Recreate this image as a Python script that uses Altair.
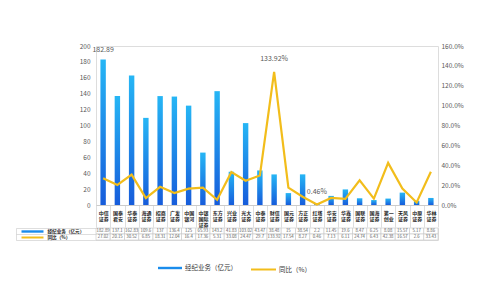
import altair as alt
import pandas as pd

categories = ["中信证券", "国泰君安", "华泰证券", "海通证券", "招商证券", "广发证券",
              "中国银河", "中银国际证券", "东方证券", "兴业证券", "光大证券", "中泰证券",
              "财信证券", "国元证券", "方正证券", "红塔证券", "华安证券", "华鑫证券",
              "国联证券", "国海证券", "第一创业", "天风证券", "中原证券", "华林证券"]
brokerage = [182.89, 137.1, 162.83, 109.6, 137.0, 136.4, 125.0, 65.93, 143.2, 41.83,
             103.02, 43.47, 38.48, 15.00, 38.54, 2.20, 11.45, 19.60, 8.47, 6.25, 8.08,
             15.57, 5.17, 8.86]
yoy = [27.02, 20.15, 30.52, 6.85, 18.31, 12.04, 16.40, 17.36, 5.31, 33.08, 24.47,
       29.70, 133.92, 17.54, 8.27, 0.46, 7.13, 6.11, 24.74, 6.43, 42.38, 16.57, 2.60,
       33.43]
row_names = ["经纪业务（亿元）", "同比（%）"]
left_ticks = list(range(0, 201, 20))
right_ticks = list(range(0, 161, 20))

FONT = "Noto Sans CJK SC"
BLUE_TOP = "#26b6f5"
BLUE_BOT = "#165cdb"
BLUE = "#1a8cec"
GOLD = "#f2bd1b"
GRID = "#c8c8c8"
W, H = 342, 159

df = pd.DataFrame({"category": categories, "brokerage": brokerage, "yoy": yoy})

xscale = alt.Scale(domain=categories, paddingInner=0, paddingOuter=0)
x_top = alt.X(
    "category:N", sort=categories, scale=xscale, title=None,
    axis=alt.Axis(
        labelAngle=0, domain=True, domainColor=GRID, domainWidth=0.8,
        ticks=True, tickBand="extent", tickSize=22, tickColor=GRID, tickWidth=0.6,
        labelPadding=-15, labelBaseline="middle", labelFontSize=5, labelLineHeight=6,
        labelColor="#222222", labelFontWeight="bold", labelFont=FONT,
        labelOverlap=False,
        labelExpr="length(datum.label) > 4 ? [slice(datum.label,0,2), slice(datum.label,2,4), slice(datum.label,4)] : [slice(datum.label,0,2), slice(datum.label,2)]",
    ),
)
y_left = alt.Y(
    "brokerage:Q", scale=alt.Scale(domain=[0, 200]), title=None,
    axis=alt.Axis(values=left_ticks, domain=False, ticks=False, grid=False,
                  labelFontSize=6.5, labelColor="#595959", labelPadding=6, labelFont=FONT),
)
y_right = alt.Y(
    "yoy:Q", scale=alt.Scale(domain=[0, 160]), title=None,
    axis=alt.Axis(orient="right", values=right_ticks, domain=False, ticks=False, grid=False,
                  labelFontSize=6.5, labelColor="#595959", labelPadding=3, labelFont=FONT,
                  labelExpr="format(datum.value, '.1f') + '%'"),
)

grad = alt.LinearGradient(
    gradient="linear",
    stops=[alt.GradientStop(color=BLUE_BOT, offset=0), alt.GradientStop(color=BLUE_TOP, offset=1)],
    x1=0, x2=0, y1=1, y2=0,
)

bars = alt.Chart(df).mark_bar(width=alt.RelativeBandSize(0.38), color=grad).encode(x=x_top, y=y_left)
bar_text = (
    alt.Chart(df)
    .transform_joinaggregate(mx="max(brokerage)")
    .transform_filter("datum.brokerage == datum.mx")
    .mark_text(dy=-7, baseline="bottom", fontSize=7, color="#595959", font=FONT)
    .encode(x=x_top, y=y_left, text=alt.Text("brokerage:Q", format=".2f"))
)
line = alt.Chart(df).mark_line(color=GOLD, strokeWidth=2.2).encode(x=x_top, y=y_right)
line_text = (
    alt.Chart(df)
    .transform_joinaggregate(mx="max(yoy)", mn="min(yoy)")
    .transform_filter("datum.yoy == datum.mx || datum.yoy == datum.mn")
    .transform_calculate(lbl="format(datum.yoy, '.2f') + '%'")
    .mark_text(dy=-10, baseline="bottom", fontSize=7, color="#595959", font=FONT)
    .encode(x=x_top, y=y_right, text="lbl:N")
)

top = (
    alt.layer(alt.layer(bars, bar_text), alt.layer(line, line_text))
    .resolve_scale(y="independent")
    .properties(width=W, height=H)
)

# data table under the chart
def fmt(v):
    return f"{v:g}"

tdf = pd.DataFrame({
    "category": categories * 2,
    "row": [row_names[0]] * len(categories) + [row_names[1]] * len(categories),
    "value": [fmt(v) for v in brokerage] + [fmt(v) for v in yoy],
})
x_tbl = alt.X("category:N", sort=categories, scale=xscale, axis=None)
yscale = alt.Scale(domain=row_names, paddingInner=0, paddingOuter=0)
KEY_TEST = "datum.value == '经纪业务（亿元）'"
y_names = alt.Y(
    "row:N", sort=row_names, scale=yscale, title=None,
    axis=alt.Axis(orient="left", domain=False, ticks=True, tickBand="extent", tickSize=80,
                  tickColor=GRID, tickWidth=0.6, labelAlign="left", labelPadding=-31,
                  labelFontSize=4.6, labelColor="#222222", labelFont=FONT,
                  labelFontWeight="bold", labelBaseline="middle"),
)
# series keys drawn as coloured axis ticks
y_keys = alt.Y(
    "row:N", sort=row_names, scale=yscale, title=None,
    axis=alt.Axis(orient="left", offset=53, domain=False, labels=False,
                  ticks=True, tickSize=22,
                  tickColor={"condition": {"test": KEY_TEST, "value": BLUE}, "value": GOLD},
                  tickWidth={"condition": {"test": KEY_TEST, "value": 2.4}, "value": 2}),
)
# left border of the key column
y_border = alt.Y(
    "row:N", sort=row_names, scale=yscale, title=None,
    axis=alt.Axis(orient="left", offset=80, domain=True, domainColor=GRID, domainWidth=0.6,
                  labels=False, ticks=False),
)

cells = alt.Chart(tdf).mark_rect(fill="white", stroke=GRID, strokeWidth=0.6).encode(x=x_tbl, y=y_names)
cell_text = alt.Chart(tdf).mark_text(fontSize=4.3, color="#595959", font=FONT).encode(
    x=x_tbl, y=y_keys, text="value:N")

empty = pd.DataFrame({"s": pd.Series([], dtype="object"), "row": pd.Series([], dtype="object")})
legend_bar = alt.Chart(empty).mark_bar().encode(
    y=y_border,
    fill=alt.Fill("s:N", scale=alt.Scale(domain=[row_names[0]], range=[BLUE]),
                  legend=alt.Legend(title=None, orient="none", legendX=62, legendY=28,
                                    symbolType="M-1,-0.1H1V0.1H-1Z", symbolSize=576,
                                    symbolStrokeWidth=0, labelFontSize=6.5, labelFont=FONT,
                                    labelColor="#333333", labelOffset=3)),
)
legend_line = alt.Chart(empty).mark_line().encode(
    stroke=alt.Stroke("s:N", scale=alt.Scale(domain=[row_names[1]], range=[GOLD]),
                      legend=alt.Legend(title=None, orient="none", legendX=154, legendY=28,
                                        symbolType="M-1,0H1", symbolSize=625,
                                        symbolStrokeWidth=2, labelFontSize=6.5, labelFont=FONT,
                                        labelColor="#333333", labelOffset=2))
)

table = (
    alt.layer(cells, cell_text, legend_bar, legend_line)
    .resolve_scale(y="independent")
    .properties(width=W, height=12)
)

chart = (
    alt.vconcat(top, table, spacing=-12)
    .resolve_legend(fill="independent", stroke="independent")
    .properties(padding={"left": 15, "top": 42, "right": 5, "bottom": 5}, background="white")
    .configure_view(stroke=None)
    .configure(font=FONT)
)

chart.save("out.html", embed_options={"renderer": "svg", "actions": False})
